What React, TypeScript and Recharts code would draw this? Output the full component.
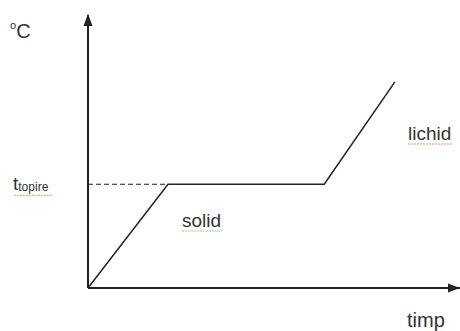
import React from "react";
import { ComposedChart, Line, XAxis, YAxis, ReferenceLine, ReferenceDot } from "recharts";

const time = [0, 2.15, 6.35, 8.25];
const temp = [0, 38, 38, 75.5];
const meltTemp = 38;
const meltTime = 2.15;
const xMax = 10;
const yMax = 100;
const yTicks = [meltTemp];

const data = time.map((t, i) => ({ t, v: temp[i] }));

const FONT = "'Liberation Sans', Arial, sans-serif";
const INK = "#222";
const TEXT = "#333";

const YTick = (props: any) => {
  const { y } = props;
  return (
    <g>
      <text x={13} y={y + 6} fontFamily={FONT} fill={TEXT}>
        <tspan fontSize={19}>t</tspan>
        <tspan fontSize={12} dy={1}>topire</tspan>
      </text>
      <line x1={14} x2={52} y1={y + 11} y2={y + 11} stroke="#e8946a" strokeWidth={1.2} strokeDasharray="2 1" />
    </g>
  );
};

const UpArrow = (props: any) => {
  const { cx, cy } = props;
  return <path d={`M${cx},${cy - 1} L${cx - 4.5},${cy + 11} L${cx + 4.5},${cy + 11} Z`} fill={INK} />;
};

const RightArrow = (props: any) => {
  const { cx, cy } = props;
  return <path d={`M${cx},${cy} L${cx - 12},${cy - 4.5} L${cx - 12},${cy + 4.5} Z`} fill={INK} />;
};

export default function App() {
  return (
    <div style={{ position: "absolute", left: 0, top: 0, width: 460, height: 331, background: "#fff" }}>
      <ComposedChart
        width={460}
        height={331}
        data={data}
        margin={{ top: 15, right: 0, bottom: 0, left: 0 }}
      >
        <XAxis
          dataKey="t"
          type="number"
          domain={[0, xMax]}
          height={43}
          ticks={[]}
          tick={false}
          tickLine={false}
          axisLine={{ stroke: INK, strokeWidth: 2 }}
        />
        <YAxis
          type="number"
          domain={[0, yMax]}
          width={88}
          ticks={yTicks}
          tick={<YTick />}
          tickLine={false}
          axisLine={{ stroke: INK, strokeWidth: 2 }}
        />
        <ReferenceLine
          segment={[{ x: 0, y: meltTemp }, { x: meltTime, y: meltTemp }]}
          stroke={INK}
          strokeWidth={1.2}
          strokeDasharray="5 3"
        />
        <Line
          dataKey="v"
          type="linear"
          stroke={INK}
          strokeWidth={1.5}
          dot={false}
          isAnimationActive={false}
        />
        <ReferenceDot x={0} y={yMax} r={0} shape={<UpArrow />} ifOverflow="visible" />
        <ReferenceDot x={xMax} y={0} r={0} shape={<RightArrow />} ifOverflow="visible" />
        <text x={10} y={38} fontFamily={FONT} fill={TEXT}>
          <tspan fontSize={11} dy={-9}>o</tspan>
          <tspan fontSize={20} dy={9}>C</tspan>
        </text>
        <text x={182} y={227} fontFamily={FONT} fontSize={19} fill={TEXT}>solid</text>
        <line x1={182} x2={222} y1={231} y2={231} stroke="#8fd47a" strokeWidth={1.2} strokeDasharray="2 1" />
        <text x={408} y={140} fontFamily={FONT} fontSize={19} fill={TEXT}>lichid</text>
        <line x1={408} x2={453} y1={144} y2={144} stroke="#e8946a" strokeWidth={1.2} strokeDasharray="2 1" />
        <text x={407} y={327} fontFamily={FONT} fontSize={20} fill={TEXT}>timp</text>
      </ComposedChart>
    </div>
  );
}
